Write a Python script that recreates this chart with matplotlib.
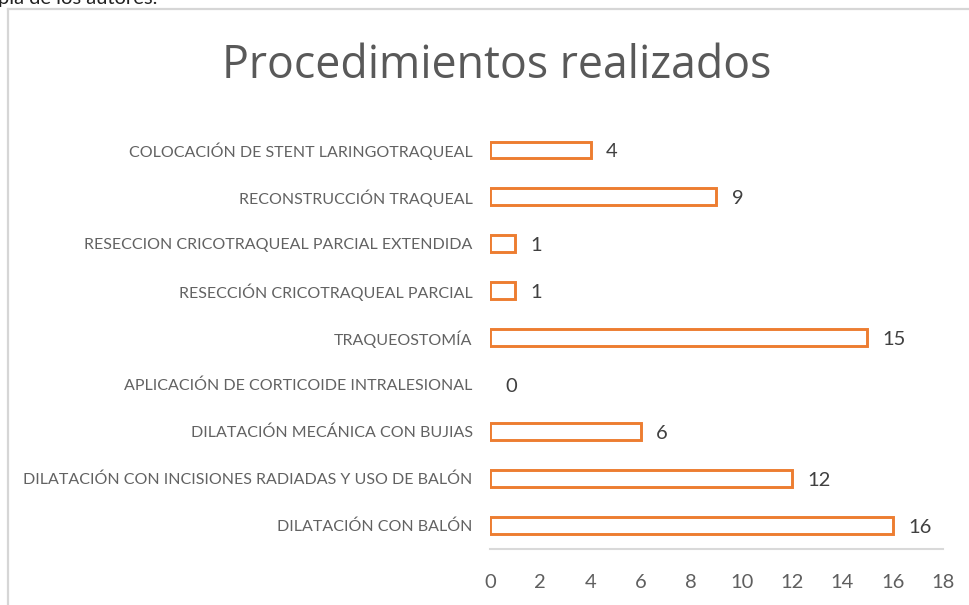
import matplotlib
matplotlib.use("Agg")
import matplotlib.pyplot as plt
from matplotlib.lines import Line2D

categories = [
    "DILATACIÓN CON BALÓN",
    "DILATACIÓN CON INCISIONES RADIADAS Y USO DE BALÓN",
    "DILATACIÓN MECÁNICA CON BUJIAS",
    "APLICACIÓN DE CORTICOIDE INTRALESIONAL",
    "TRAQUEOSTOMÍA",
    "RESECCIÓN CRICOTRAQUEAL PARCIAL",
    "RESECCION CRICOTRAQUEAL PARCIAL EXTENDIDA",
    "RECONSTRUCCIÓN TRAQUEAL",
    "COLOCACIÓN DE STENT LARINGOTRAQUEAL",
]
values = [16, 12, 6, 0, 15, 1, 1, 9, 4]
xticks = [0, 2, 4, 6, 8, 10, 12, 14, 16, 18]
title = "Procedimientos realizados"

W, H = 970, 605
fig = plt.figure(figsize=(W / 100, H / 100), dpi=100)
fam = ["Lato", "DejaVu Sans"]
tfam = ["Open Sans", "DejaVu Sans"]
renderer = fig.canvas.get_renderer()


def fit_size(text, family, target_px, base=10.0):
    t = fig.text(0, 0, text, fontsize=base, family=family)
    w = t.get_window_extent(renderer=renderer).width
    t.remove()
    return base * target_px / w


# chart frame (partially cropped)
fig.add_artist(Line2D([8 / W, 1.0], [1 - 9 / H, 1 - 9 / H], color="#d6d6d6", lw=1.6))
fig.add_artist(Line2D([8 / W, 8 / W], [1 - 9 / H, 0.0], color="#d6d6d6", lw=1.6))
# cropped caption at the very top
fig.text(-0.002, 1 - 4 / H, "pia de los autores.", fontsize=14.5, color="#222222",
         va="baseline", ha="left", family=fam)

lab_size = fit_size(max(categories, key=len), fam, 445)

ax = fig.add_axes([490 / W, 1 - 549 / H, (943 - 490) / W, (549 - 126.5) / H])
ypos = list(range(len(categories)))
edges = ["#ED7D31" if v > 0 else "none" for v in values]
ax.barh(ypos, values, height=0.36, color="white", edgecolor=edges, linewidth=2.1)
ax.set_xlim(0, 18)
ax.set_ylim(-0.5, len(categories) - 0.5)
ax.set_xticks(xticks)
ax.set_xticklabels([str(t) for t in xticks], fontsize=14.5, color="#5f5f5f", family=fam)
ax.set_yticks(ypos)
ax.set_yticklabels(categories, fontsize=lab_size, color="#626262", family=fam)
ax.tick_params(axis="both", length=0)
ax.tick_params(axis="x", pad=18)
ax.tick_params(axis="y", pad=12.5)
for s in ["top", "right", "left"]:
    ax.spines[s].set_visible(False)
ax.spines["bottom"].set_color("#d9d9d9")
ax.spines["bottom"].set_linewidth(1.5)

for y, v in zip(ypos, values):
    ax.annotate(str(v), (v, y), xytext=(11, -1.2), textcoords="offset points",
                va="center", ha="left", fontsize=14.5, color="#404040", family=fam)

title_size = fit_size(title, tfam, 549)
fig.text(497 / W, 1 - 66 / H, title, fontsize=title_size, color="#595959", ha="center",
         va="center", family=tfam)

fig.savefig("out.png", dpi=100)
